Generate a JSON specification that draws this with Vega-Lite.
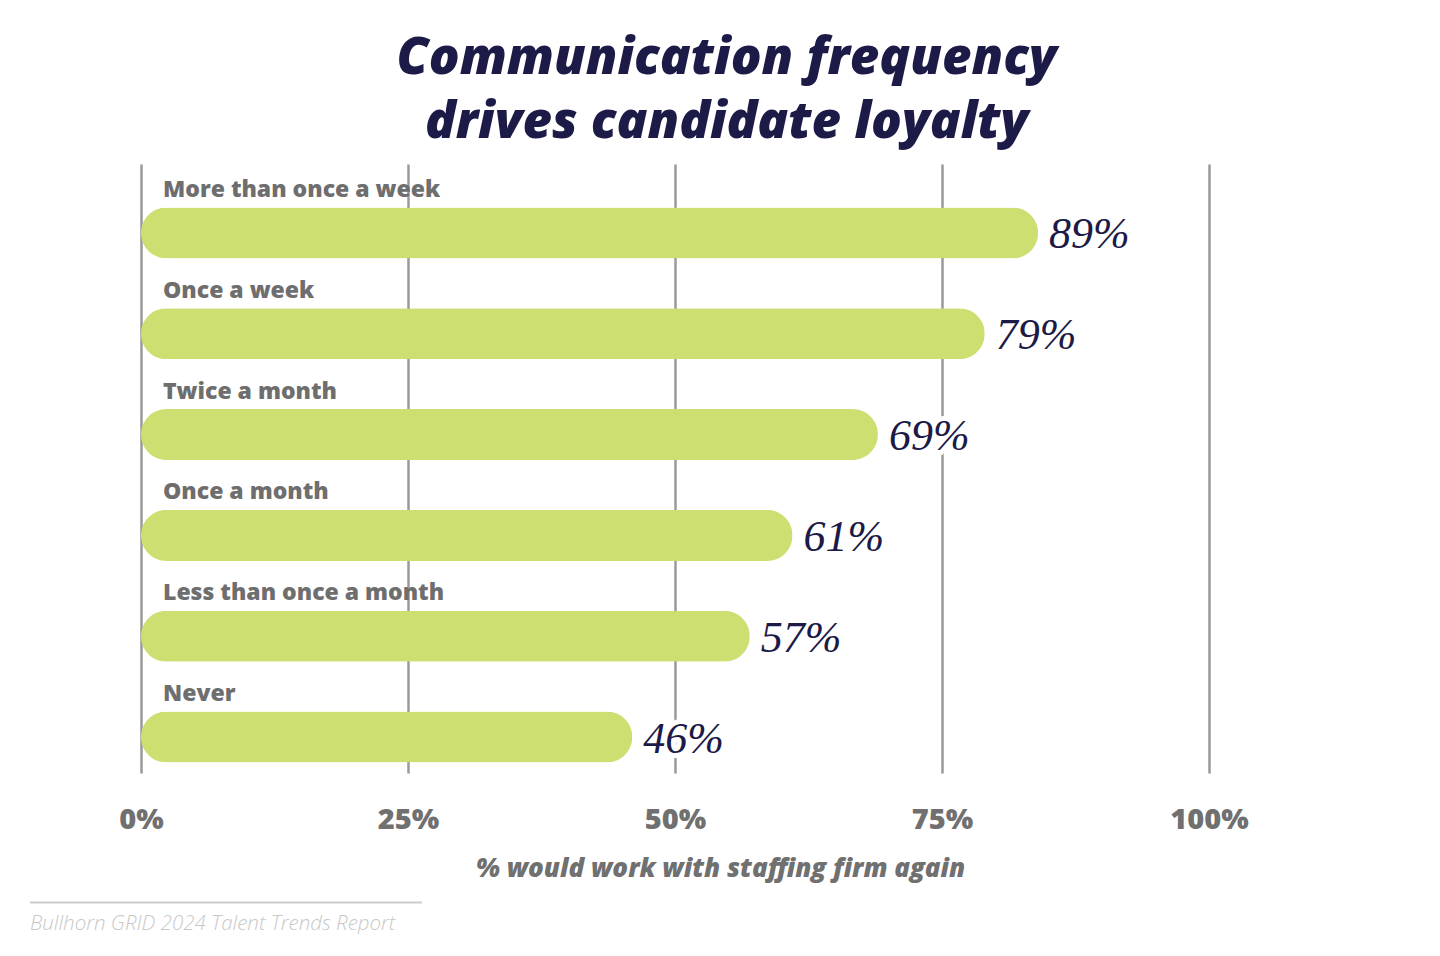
{
  "$schema": "https://vega.github.io/schema/vega-lite/v6.json",
  "padding": {"left": 29, "top": 33, "right": 0, "bottom": 0},
  "background": "white",
  "config": {"view": {"stroke": null}},
  "title": {
    "text": ["Communication frequency", "drives candidate loyalty"],
    "font": "Open Sans",
    "fontSize": 51,
    "fontStyle": "italic",
    "fontWeight": 800,
    "color": "#1c1a47",
    "lineHeight": 64,
    "anchor": "middle",
    "offset": 15,
    "dx": 88
  },
  "spacing": 20,
  "vconcat": [
    {
      "width": 1068,
      "height": 609,
      "data": {
        "values": [
          {"freq": "More than once a week", "bar": 84, "label": "89%"},
          {"freq": "Once a week", "bar": 79, "label": "79%"},
          {"freq": "Twice a month", "bar": 69, "label": "69%"},
          {"freq": "Once a month", "bar": 61, "label": "61%"},
          {"freq": "Less than once a month", "bar": 57, "label": "57%"},
          {"freq": "Never", "bar": 46, "label": "46%"}
        ]
      },
      "encoding": {
        "y": {
          "field": "freq",
          "type": "nominal",
          "sort": null,
          "scale": {"paddingInner": 0, "paddingOuter": 0.02},
          "axis": {"labels": false, "ticks": false, "domain": false, "grid": false, "title": null, "minExtent": 111, "maxExtent": 111}
        }
      },
      "layer": [
        {
          "mark": {"type": "bar", "height": 51, "yOffset": 16.5, "cornerRadius": 25.5, "color": "#cddf71"},
          "encoding": {
            "x": {
              "field": "bar",
              "type": "quantitative",
              "scale": {"domain": [0, 100], "nice": false},
              "axis": {
                "values": [0, 25, 50, 75, 100],
                "labelExpr": "datum.value + '%'",
                "grid": true,
                "gridColor": "#9a9a9a",
                "gridWidth": 2.5,
                "domain": false,
                "ticks": false,
                "labelFlush": false,
                "labelOverlap": false,
                "labelFont": "Open Sans",
                "labelFontSize": 29,
                "labelFontWeight": 800,
                "labelColor": "#707070",
                "labelPadding": 32,
                "title": "% would work with staffing firm again",
                "titleFont": "Open Sans",
                "titleFontSize": 26,
                "titleFontStyle": "italic",
                "titleFontWeight": 800,
                "titleColor": "#707070",
                "titlePadding": 21,
                "titleX": 579
              }
            }
          }
        },
        {
          "mark": {"type": "text", "align": "left", "baseline": "middle", "dx": 22, "yOffset": -26.5, "font": "Open Sans", "fontSize": 23, "fontWeight": 800, "color": "#6e6e6e"},
          "encoding": {
            "x": {"datum": 0},
            "text": {"field": "freq"}
          }
        },
        {
          "mark": {"type": "text", "align": "left", "baseline": "middle", "dx": 11, "yOffset": 19, "font": "Liberation Serif", "fontSize": 44, "fontStyle": "italic", "color": "white", "stroke": "white", "strokeWidth": 10},
          "encoding": {
            "x": {"field": "bar", "type": "quantitative"},
            "text": {"field": "label"}
          }
        },
        {
          "mark": {"type": "text", "align": "left", "baseline": "middle", "dx": 11, "yOffset": 19, "font": "Liberation Serif", "fontSize": 44, "fontStyle": "italic", "color": "#1c1a47"},
          "encoding": {
            "x": {"field": "bar", "type": "quantitative"},
            "text": {"field": "label"}
          }
        }
      ]
    },
    {
      "width": 281,
      "height": 1,
      "data": {"values": [{"source": "Bullhorn GRID 2024 Talent Trends Report"}]},
      "layer": [
        {
          "mark": {"type": "rule", "color": "#cccccc", "strokeWidth": 2, "xOffset": -111},
          "encoding": {
            "x": {"datum": 0, "scale": {"domain": [0, 1]}, "axis": null},
            "x2": {"datum": 1}
          }
        },
        {
          "mark": {"type": "text", "align": "left", "baseline": "top", "dx": -111, "dy": 11, "font": "Open Sans", "fontSize": 20.5, "fontStyle": "italic", "fontWeight": 300, "color": "#c8c8c8"},
          "encoding": {
            "x": {"datum": 0},
            "text": {"field": "source"}
          }
        }
      ]
    }
  ]
}
